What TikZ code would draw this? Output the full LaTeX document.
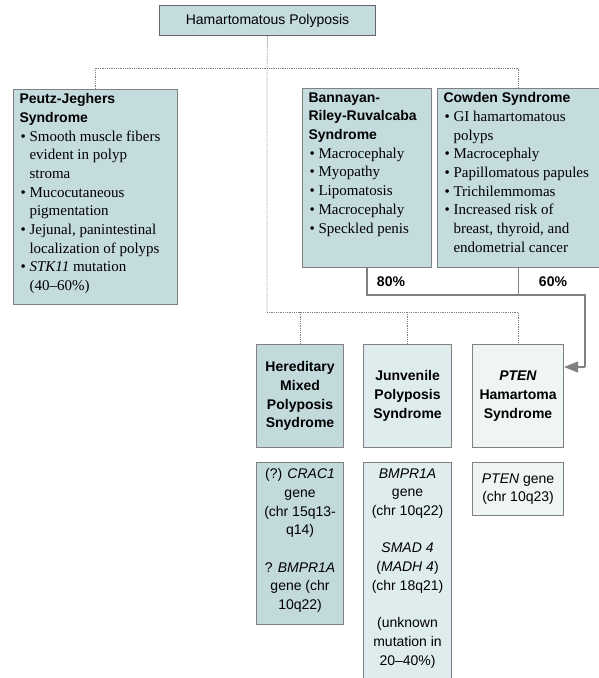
\documentclass[tikz,border=0pt]{standalone}
\usepackage{fontspec}
\setmainfont{Liberation Serif}
\setsansfont{Liberation Sans}
\usetikzlibrary{arrows.meta}

\definecolor{boxblue}{HTML}{C5DCDF}
\definecolor{hmpblue}{HTML}{C3DADD}
\definecolor{jpsblue}{HTML}{DFECED}
\definecolor{ptenblue}{HTML}{EFF4F4}
\definecolor{edgegray}{HTML}{808080}

\newcommand{\hd}{\sffamily\bfseries\fontsize{14}{18.7}\selectfont}
\newcommand{\gn}{\sffamily\fontsize{14}{18.7}\selectfont}
\newcommand{\sr}{\rmfamily\fontsize{15}{18.7}\selectfont}
\newcommand{\bitem}[1]{\par\hangindent=10pt\hangafter=1\noindent\makebox[10pt][l]{\hspace{1pt}\textbullet}#1}

\tikzset{
  synbox/.style={draw=edgegray, line width=1.1pt, anchor=north west, inner xsep=6pt, inner ysep=4pt},
  lowbox/.style={draw=edgegray, line width=1.1pt, anchor=north west, align=center, font=\hd, inner sep=2pt},
  genebox/.style={draw=edgegray, line width=1.1pt, anchor=north west, align=center, font=\gn, inner xsep=3pt, inner ysep=6pt},
  tree/.style={densely dotted, line width=0.8pt, gray},
  link/.style={edgegray, line width=1.2pt},
  pct/.style={font=\hd}
}

\begin{document}
\begin{tikzpicture}[x=1pt, y=-1pt]
  \useasboundingbox (0,0) rectangle (598,678);

  % top of the tree
  \node[draw=edgegray!80!black, line width=1.1pt, fill=boxblue, anchor=north west,
        minimum width=216pt, minimum height=30pt, font=\gn] (hp) at (159,5) {Hamartomatous Polyposis};

  % upper row
  \node[synbox, fill=boxblue] (pj) at (13,89) {\parbox[t][207pt][t]{152pt}{\raggedright
    {\hd Peutz-Jeghers\\Syndrome}\sr
    \bitem{Smooth muscle fibers\newline evident in polyp\newline stroma}
    \bitem{Mucocutaneous\newline pigmentation}
    \bitem{Jejunal, panintestinal\newline localization of polyps}
    \bitem{\textit{STK11} mutation\newline (40--60\%)}}};

  \node[synbox, fill=boxblue] (brr) at (302,88) {\parbox[t][171pt][t]{117pt}{\raggedright
    {\hd Bannayan-\\Riley-Ruvalcaba\\Syndrome}\sr
    \bitem{Macrocephaly}
    \bitem{Myopathy}
    \bitem{Lipomatosis}
    \bitem{Macrocephaly}
    \bitem{Speckled penis}}};

  \node[synbox, fill=boxblue] (cs) at (437,88) {\parbox[t][171pt][t]{150pt}{\raggedright
    {\hd Cowden Syndrome}\sr
    \bitem{GI hamartomatous\newline polyps}
    \bitem{Macrocephaly}
    \bitem{Papillomatous papules}
    \bitem{Trichilemmomas}
    \bitem{Increased risk of\newline breast, thyroid, and\newline endometrial cancer}}};

  % lower row
  \node[lowbox, fill=hmpblue, minimum width=87pt, minimum height=103pt] (hmps) at (256,344)
    {Hereditary\\Mixed\\Polyposis\\Snydrome};
  \node[lowbox, fill=jpsblue, minimum width=88pt, minimum height=103pt] (jps) at (363,344)
    {Junvenile\\Polyposis\\Syndrome};
  \node[lowbox, fill=ptenblue, minimum width=91pt, minimum height=103pt] (phts) at (472,344)
    {\textit{PTEN}\\Hamartoma\\Syndrome};

  % genes
  \node[genebox, fill=hmpblue] (hmpsg) at (256,462) {\parbox[t][150pt][t]{81pt}{\centering
    (?) \textit{CRAC1}\\gene\\(chr 15q13-\\q14)\\[18.7pt]? \textit{BMPR1A}\\gene (chr\\10q22)}};
  \node[genebox, fill=jpsblue] (jpsg) at (363,462) {\parbox[t][216pt][t]{82pt}{\centering
    \textit{BMPR1A}\\gene\\(chr 10q22)\\[18.7pt]\textit{SMAD 4}\\(\textit{MADH 4})\\(chr 18q21)\\[18.7pt](unknown\\mutation in\\20--40\%)}};
  \node[genebox, fill=ptenblue, minimum width=91pt, minimum height=53pt, inner ysep=2pt] (phtsg) at (472,462)
    {\textit{PTEN} gene\\(chr 10q23)};

  % dotted tree
  \coordinate (j0) at (267,68);
  \coordinate (j1) at (267,312);
  \draw[tree] (hp.south) -- (j0) -- (j1);
  \draw[tree] (pj.north) -- (pj.north |- j0) -- (cs.north |- j0) -- (cs.north);
  \draw[tree] (j1) -- (phts.north |- j1) -- (phts.north);
  \draw[tree] (hmps.north |- j1) -- (hmps.north);
  \draw[tree] (jps.north |- j1) -- (jps.north);

  % solid links to PTEN
  \coordinate (j2) at (585,295);
  \coordinate (j3) at (585,367);
  \draw[link] (brr.south) -- (brr.south |- j2) -- (j2) -- (j3);
  \draw[link] (cs.south) -- (cs.south |- j2);
  \draw[link, -{Triangle[length=14pt, width=11pt]}] (j3) -- (phts.east |- j3);

  \node[pct] (p80) at (391,282) {80\%};
  \node[pct] (p60) at (553,282) {60\%};
\end{tikzpicture}
\end{document}
